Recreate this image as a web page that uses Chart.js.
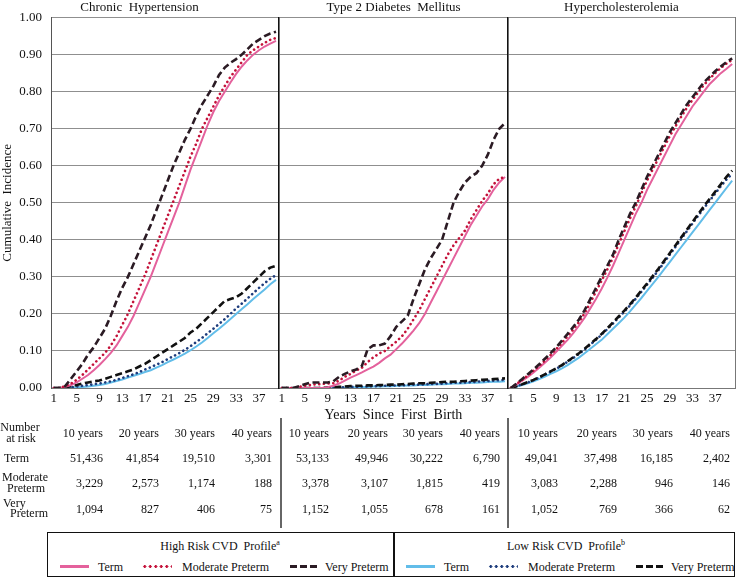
<!DOCTYPE html>
<html>
<head>
<meta charset="utf-8">
<title>Cumulative Incidence by Preterm Delivery</title>
<script src="https://cdn.jsdelivr.net/npm/chart.js"></script>
<style>
body{margin:0;width:741px;height:581px;background:#fff;position:relative;overflow:hidden;font-family:"Liberation Serif",Tinos,"Times New Roman","DejaVu Serif",serif;color:#111}
canvas{position:absolute;top:0}
.t{position:absolute;font-size:12px;line-height:14px;white-space:nowrap}
.vl{position:absolute;width:2px;background:#666;top:418px;height:110px}
#legend{position:absolute;left:47px;top:532px;width:688px;height:45px;border:1.5px solid #111;box-sizing:border-box}
.sw{position:absolute;height:3px}
</style>
</head>
<body>

<canvas id="c1" width="279" height="425" style="left:0"></canvas>
<canvas id="c2" width="234" height="425" style="left:274px"></canvas>
<canvas id="c3" width="238" height="425" style="left:503px"></canvas>

<div id="legend"></div>

<script>
// ===== DATA =====
const years=[1,2,3,4,5,6,7,8,9,10,11,12,13,14,15,16,17,18,19,20,21,22,23,24,25,26,27,28,29,30,31,32,33,34,35,36,37,38,39,40]
const tickYears=[1,5,9,13,17,21,25,29,33,37]
const panelTitles=['Chronic  Hypertension','Type 2 Diabetes  Mellitus','Hypercholesterolemia']
const groups=['Term','Moderate Preterm','Very Preterm']

// chronic hypertension
const htnHighTerm=[0,0,0.003,0.008,0.015,0.025,0.035,0.048,0.062,0.078,0.095,0.115,0.14,0.165,0.195,0.23,0.265,0.30,0.34,0.38,0.42,0.46,0.50,0.545,0.59,0.63,0.67,0.71,0.745,0.775,0.80,0.825,0.848,0.868,0.885,0.90,0.912,0.922,0.93,0.937]
const htnHighMod=[0,0,0.005,0.012,0.022,0.035,0.05,0.065,0.08,0.095,0.115,0.14,0.17,0.20,0.235,0.27,0.305,0.345,0.385,0.425,0.465,0.505,0.545,0.585,0.625,0.66,0.70,0.73,0.76,0.79,0.815,0.84,0.86,0.88,0.90,0.912,0.922,0.932,0.94,0.945]
const htnHighVery=[0,0,0.005,0.025,0.045,0.065,0.09,0.11,0.135,0.16,0.195,0.235,0.27,0.30,0.335,0.37,0.405,0.44,0.48,0.52,0.56,0.60,0.635,0.67,0.70,0.735,0.765,0.79,0.815,0.845,0.865,0.878,0.888,0.90,0.915,0.93,0.94,0.95,0.957,0.962]
const htnLowTerm=[0,0,0,0.001,0.002,0.003,0.004,0.006,0.008,0.011,0.015,0.019,0.023,0.028,0.033,0.038,0.043,0.048,0.055,0.062,0.07,0.077,0.085,0.093,0.102,0.112,0.123,0.135,0.148,0.16,0.173,0.186,0.2,0.213,0.226,0.24,0.253,0.266,0.28,0.292]
const htnLowMod=[0,0,0.001,0.002,0.004,0.006,0.008,0.01,0.012,0.015,0.018,0.022,0.027,0.032,0.037,0.043,0.05,0.056,0.063,0.07,0.078,0.086,0.094,0.103,0.113,0.124,0.135,0.148,0.16,0.173,0.186,0.2,0.215,0.228,0.242,0.256,0.27,0.283,0.295,0.305]
const htnLowVery=[0,0,0.002,0.005,0.008,0.012,0.015,0.018,0.02,0.025,0.03,0.035,0.04,0.045,0.05,0.058,0.065,0.075,0.085,0.095,0.105,0.115,0.125,0.135,0.15,0.16,0.175,0.19,0.205,0.22,0.235,0.24,0.245,0.255,0.27,0.285,0.30,0.315,0.325,0.33]

// type 2 diabetes
const t2dHighTerm=[0,0,0,0,0,0,0,0,0.002,0.006,0.012,0.02,0.028,0.035,0.042,0.05,0.058,0.068,0.08,0.09,0.105,0.12,0.137,0.155,0.175,0.20,0.23,0.26,0.29,0.32,0.35,0.38,0.41,0.44,0.465,0.49,0.51,0.535,0.555,0.57]
const t2dHighMod=[0,0,0,0.003,0.006,0.008,0.01,0.011,0.012,0.013,0.02,0.03,0.038,0.047,0.055,0.07,0.083,0.093,0.10,0.113,0.125,0.14,0.16,0.185,0.21,0.24,0.27,0.30,0.33,0.36,0.385,0.405,0.425,0.455,0.48,0.505,0.525,0.55,0.565,0.57]
const t2dHighVery=[0,0,0,0.005,0.01,0.015,0.015,0.015,0.015,0.018,0.03,0.038,0.045,0.05,0.06,0.105,0.115,0.115,0.12,0.14,0.165,0.18,0.195,0.24,0.28,0.32,0.35,0.375,0.40,0.45,0.50,0.53,0.555,0.57,0.58,0.60,0.63,0.67,0.70,0.715]
const t2dLowTerm=[0,0,0,0,0,0,0,0,0,0,0,0.001,0.002,0.002,0.003,0.003,0.004,0.004,0.005,0.005,0.006,0.006,0.007,0.007,0.008,0.008,0.009,0.01,0.01,0.011,0.012,0.012,0.013,0.014,0.014,0.015,0.016,0.017,0.017,0.018]
const t2dLowMod=[0,0,0,0,0,0,0,0,0,0.001,0.001,0.002,0.003,0.003,0.004,0.004,0.005,0.005,0.006,0.006,0.007,0.007,0.008,0.009,0.009,0.01,0.011,0.011,0.012,0.013,0.014,0.014,0.015,0.016,0.017,0.018,0.019,0.02,0.021,0.022]
const t2dLowVery=[0,0,0,0,0,0,0,0,0.001,0.002,0.003,0.004,0.005,0.006,0.006,0.007,0.007,0.008,0.008,0.009,0.009,0.01,0.011,0.012,0.013,0.013,0.014,0.015,0.016,0.017,0.017,0.018,0.019,0.02,0.021,0.022,0.023,0.024,0.025,0.026]

// hypercholesterolemia
const hcHighTerm=[0,0.01,0.02,0.03,0.042,0.055,0.068,0.082,0.098,0.114,0.13,0.148,0.168,0.19,0.215,0.24,0.268,0.298,0.33,0.365,0.40,0.435,0.47,0.50,0.535,0.565,0.595,0.625,0.655,0.685,0.71,0.735,0.76,0.78,0.80,0.82,0.835,0.85,0.862,0.875]
const hcHighMod=[0,0.011,0.022,0.034,0.047,0.06,0.074,0.089,0.105,0.122,0.14,0.158,0.178,0.202,0.23,0.26,0.29,0.32,0.352,0.388,0.423,0.458,0.49,0.525,0.56,0.59,0.62,0.65,0.68,0.706,0.732,0.756,0.778,0.798,0.818,0.834,0.85,0.864,0.876,0.886]
const hcHighVery=[0,0.012,0.024,0.037,0.05,0.064,0.079,0.094,0.11,0.128,0.146,0.165,0.185,0.21,0.24,0.27,0.30,0.33,0.36,0.40,0.435,0.47,0.50,0.535,0.57,0.60,0.63,0.66,0.69,0.715,0.74,0.765,0.785,0.805,0.825,0.84,0.855,0.868,0.88,0.89]
const hcLowTerm=[0,0.004,0.008,0.013,0.018,0.024,0.031,0.038,0.045,0.053,0.062,0.072,0.082,0.094,0.106,0.118,0.13,0.145,0.16,0.175,0.19,0.207,0.225,0.243,0.262,0.281,0.30,0.32,0.34,0.36,0.38,0.40,0.42,0.44,0.46,0.48,0.50,0.52,0.54,0.56]
const hcLowMod=[0,0.005,0.01,0.015,0.021,0.028,0.036,0.044,0.052,0.061,0.071,0.081,0.092,0.104,0.117,0.13,0.144,0.159,0.174,0.19,0.206,0.223,0.241,0.26,0.279,0.298,0.318,0.339,0.36,0.381,0.402,0.423,0.444,0.465,0.485,0.505,0.525,0.545,0.563,0.578]
const hcLowVery=[0,0.005,0.01,0.016,0.022,0.029,0.037,0.045,0.053,0.062,0.072,0.083,0.094,0.106,0.119,0.132,0.146,0.161,0.177,0.193,0.209,0.226,0.244,0.263,0.282,0.302,0.322,0.343,0.364,0.385,0.406,0.427,0.448,0.469,0.49,0.51,0.53,0.55,0.57,0.587]

// number at risk at 10/20/30/40 years
const riskCols=['10 years','20 years','30 years','40 years']
const htnRisk=[[51436,41854,19510,3301],[3229,2573,1174,188],[1094,827,406,75]]
const t2dRisk=[[53133,49946,30222,6790],[3378,3107,1815,419],[1152,1055,678,161]]
const hcRisk=[[49041,37498,16185,2402],[3083,2288,946,146],[1052,769,366,62]]

// ===== STYLE =====
const FONT='"Liberation Serif", Tinos, "Times New Roman", "DejaVu Serif", serif'
const INK='#111'
const HIGH=['#e4619c','#c4123a','#2b1b24']
const LOW=['#62bde9','#1e3c7c','#111111']

function line(label,data,color,kind){
  return {label,data,borderColor:color,backgroundColor:color,pointRadius:0,tension:0,fill:false,
    borderWidth:kind==='solid'?2:2.6,
    borderDash:kind==='dot'?[0.1,4.6]:kind==='dash'?[7,3.5]:[],
    borderCapStyle:kind==='dot'?'round':'butt'}
}

function panel(id,idx,series){
  const first=idx===0, mid=idx===1, last=idx===2
  const scales={
    x:{offset:true,
      grid:{display:false,drawTicks:false},
      border:{display:true,color:'#777',width:1},
      ticks:{autoSkip:false,maxRotation:0,padding:3,color:INK,font:{family:FONT,size:13},
        callback:(v,i)=>tickYears.includes(years[i])?String(years[i]):''},
      title:{display:mid,text:'Years  Since  First  Birth',color:INK,font:{family:FONT,size:14},padding:{top:0,bottom:1}},
      afterFit:s=>{s.height=37}},
    y:{min:0,max:1,
      grid:{color:'#8f8f8f',lineWidth:1,drawTicks:false},
      border:{display:true,color:first?'#555':'#111',width:first?1:1.6},
      ticks:{display:first,stepSize:0.1,padding:9,color:INK,font:{family:FONT,size:13},callback:v=>v.toFixed(2)},
      title:{display:first,text:'Cumulative  Incidence',color:INK,font:{family:FONT,size:13},padding:0},
      afterFit:s=>{s.width=first?51:0}}
  }
  if(last) scales.y2={position:'right',min:0,max:1,display:true,
    grid:{display:false,drawTicks:false},border:{display:true,color:'#777',width:1},
    ticks:{display:false},afterFit:s=>{s.width=0}}

  new Chart(document.getElementById(id),{
    type:'line',
    data:{labels:years,datasets:[
      line('Very Preterm',series[2],HIGH[2],'dash'),
      line('Moderate Preterm',series[1],HIGH[1],'dot'),
      line('Term',series[0],HIGH[0],'solid'),
      line('Very Preterm',series[5],LOW[2],'dash'),
      line('Moderate Preterm',series[4],LOW[1],'dot'),
      line('Term',series[3],LOW[0],'solid')
    ]},
    options:{responsive:false,animation:false,
      layout:{padding:{left:first?0:5,right:last?6:0,top:0,bottom:0}},
      plugins:{legend:{display:false},tooltip:{enabled:false},
        title:{display:true,text:panelTitles[idx],color:INK,font:{family:FONT,size:13,weight:'normal'},padding:{top:0,bottom:2}}},
      scales}
  })
}

panel('c1',0,[htnHighTerm,htnHighMod,htnHighVery,htnLowTerm,htnLowMod,htnLowVery])
panel('c2',1,[t2dHighTerm,t2dHighMod,t2dHighVery,t2dLowTerm,t2dLowMod,t2dLowVery])
panel('c3',2,[hcHighTerm,hcHighMod,hcHighVery,hcLowTerm,hcLowMod,hcLowVery])

// ===== NUMBER AT RISK =====
function text(str,x,y,align){
  const d=document.createElement('div')
  d.className='t'
  d.textContent=str
  d.style.top=(y-7)+'px'
  if(align==='right') d.style.right=(741-x)+'px'
  else if(align==='center'){d.style.left=x+'px';d.style.transform='translateX(-50%)'}
  else d.style.left=x+'px'
  document.body.appendChild(d)
  return d
}
const colRight=[[103,159,215,272],[329,388,443,500],[558,617,673,730]]
const rowY=[433,458,483,509]
text('Number',20,427,'center');text('at risk',21,438,'center')
text('Term',4,rowY[1])
text('Moderate',25,rowY[2]-6,'center');text('Preterm',26,rowY[2]+5,'center')
text('Very',3,rowY[3]-6);text('Preterm',10,rowY[3]+4)
;[htnRisk,t2dRisk,hcRisk].forEach((tbl,p)=>{
  riskCols.forEach((c,j)=>text(c,colRight[p][j],rowY[0],'right'))
  tbl.forEach((row,g)=>row.forEach((n,j)=>text(n.toLocaleString('en-US'),colRight[p][j],rowY[g+1],'right')))
})
;[280,507].forEach(x=>{const v=document.createElement('div');v.className='vl';v.style.left=x+'px';document.body.appendChild(v)})

// ===== LEGEND =====
function swatch(x,w,color,kind){
  const d=document.createElement('div')
  d.className='sw'
  d.style.left=x+'px';d.style.top='565px';d.style.width=w+'px'
  if(kind==='solid') d.style.background=color
  else if(kind==='dot') d.style.background='radial-gradient(circle,'+color+' 1.3px,transparent 1.7px) 0 0/5.5px 3px repeat-x'
  else d.style.background='repeating-linear-gradient(90deg,'+color+' 0 7px,transparent 7px 10px)'
  document.body.appendChild(d)
}
const legendDiv=document.createElement('div')
legendDiv.style.cssText='position:absolute;left:393px;top:532px;width:1.5px;height:45px;background:#111'
document.body.appendChild(legendDiv)
;[['High Risk CVD Profile','a',HIGH,0],['Low Risk CVD Profile','b',LOW,346]].forEach(([name,sup,cols,off])=>{
  const h=text('',220+off,543,'center')
  h.innerHTML=name.replace('CVD ','CVD&nbsp; ')+'<sup style="font-size:8px">'+sup+'</sup>'
  swatch(60+off,29,cols[0],'solid');text(groups[0],98+off,567)
  swatch(142+off,30,cols[1],'dot');text(groups[1],182+off,567)
  swatch(290+off,28,cols[2],'dash');text(groups[2],325+off,567)
})
</script>
</body>
</html>
